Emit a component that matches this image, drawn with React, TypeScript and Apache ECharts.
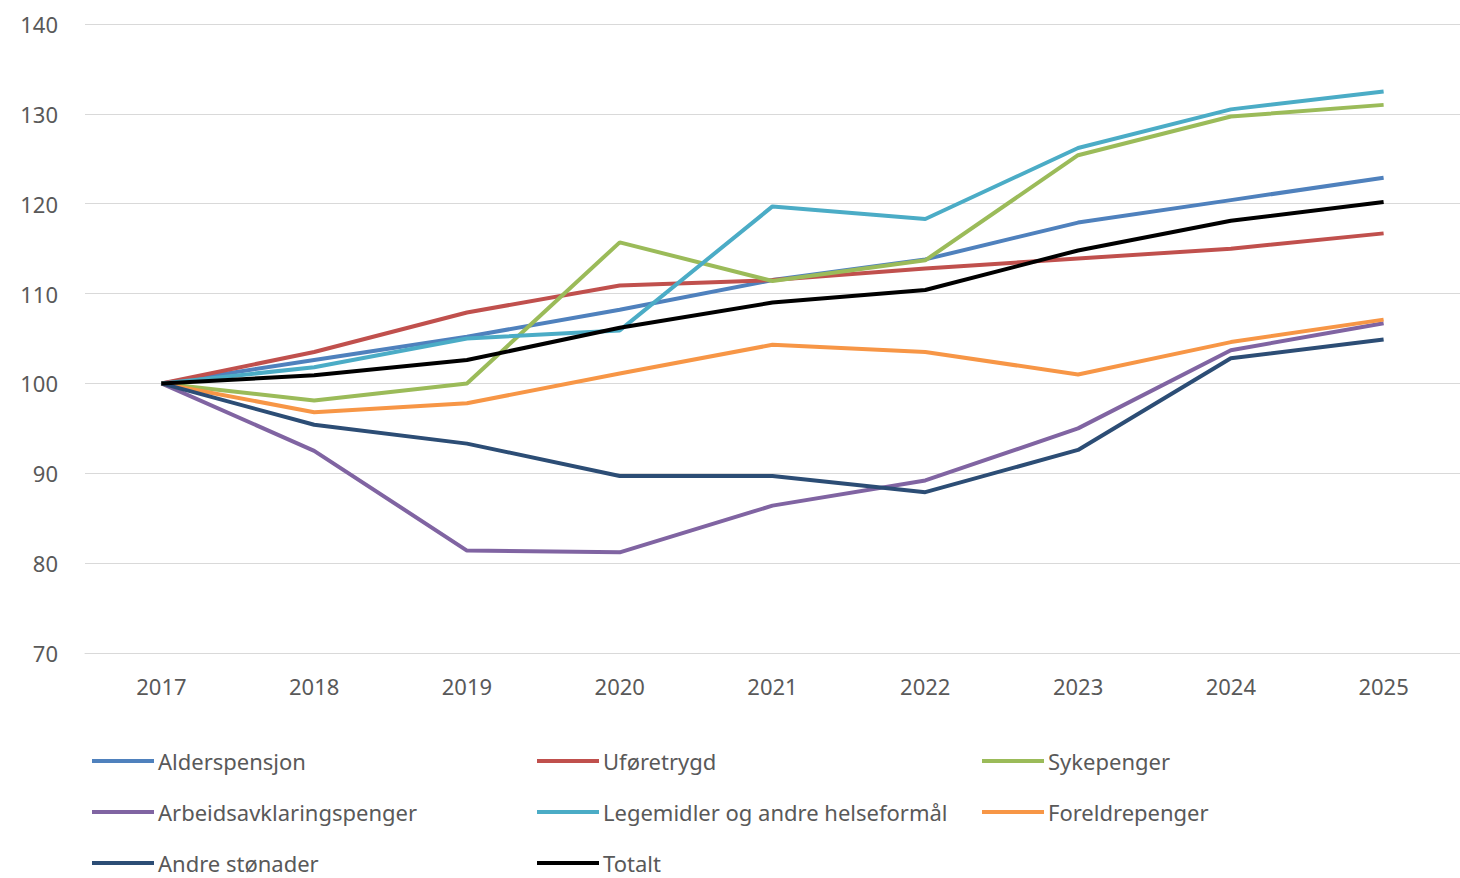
import React, { useEffect, useRef } from "react";
import * as echarts from "echarts";

const years = ["2017", "2018", "2019", "2020", "2021", "2022", "2023", "2024", "2025"];

const alderspensjon = [100, 102.6, 105.2, 108.2, 111.5, 113.8, 117.9, 120.4, 122.9];
const uforetrygd = [100, 103.5, 107.9, 110.9, 111.5, 112.8, 113.9, 115.0, 116.7];
const sykepenger = [100, 98.1, 100, 115.7, 111.4, 113.7, 125.4, 129.7, 131.0];
const arbeidsavklaringspenger = [100, 92.5, 81.4, 81.2, 86.4, 89.2, 95.0, 103.7, 106.7];
const legemidler = [100, 101.8, 105.0, 105.9, 119.7, 118.3, 126.2, 130.5, 132.5];
const foreldrepenger = [100, 96.8, 97.8, 101.1, 104.3, 103.5, 101.0, 104.6, 107.1];
const andreStonader = [100, 95.4, 93.3, 89.7, 89.7, 87.9, 92.6, 102.8, 104.9];
const totalt = [100, 100.9, 102.6, 106.2, 109.0, 110.4, 114.8, 118.1, 120.2];

const seriesDefs = [
  { name: "Alderspensjon", data: alderspensjon, color: "#4F81BD" },
  { name: "Uføretrygd", data: uforetrygd, color: "#C0504D" },
  { name: "Sykepenger", data: sykepenger, color: "#9BBB59" },
  { name: "Arbeidsavklaringspenger", data: arbeidsavklaringspenger, color: "#8064A2" },
  { name: "Legemidler og andre helseformål", data: legemidler, color: "#4BACC6" },
  { name: "Foreldrepenger", data: foreldrepenger, color: "#F79646" },
  { name: "Andre stønader", data: andreStonader, color: "#2C4D75" },
  { name: "Totalt", data: totalt, color: "#000000" },
];

const legendRows = [
  ["Alderspensjon", "Uføretrygd", "Sykepenger"],
  ["Arbeidsavklaringspenger", "Legemidler og andre helseformål", "Foreldrepenger"],
  ["Andre stønader", "Totalt"],
];
const legendTops = [748, 799, 850];

export default function App() {
  const ref = useRef<HTMLDivElement>(null);
  useEffect(() => {
    if (!ref.current) return;
    const chart = echarts.init(ref.current, null, { renderer: "svg" });
    const font = "'Noto Sans', 'Liberation Sans', sans-serif";
    chart.setOption({
      animation: false,
      backgroundColor: "#ffffff",
      grid: { left: 85, top: 24, width: 1379, height: 629, containLabel: false },
      xAxis: {
        type: "category",
        data: years,
        boundaryGap: true,
        axisLine: { show: true, lineStyle: { color: "#d9d9d9", width: 1 } },
        axisTick: { show: false },
        axisLabel: { color: "#595959", fontSize: 22, fontFamily: font, margin: 22 },
      },
      yAxis: {
        type: "value",
        min: 70,
        max: 140,
        interval: 10,
        axisLine: { show: false },
        axisTick: { show: false },
        axisLabel: { color: "#595959", fontSize: 22, fontFamily: font, margin: 27 },
        splitLine: { lineStyle: { color: "#d9d9d9", width: 1 } },
      },
      legend: legendRows.map((names, i) => ({
        orient: "horizontal",
        left: 92,
        top: legendTops[i],
        padding: 0,
        data: names,
        icon: "rect",
        itemWidth: 62,
        itemHeight: 4,
        itemGap: 12,
        textStyle: {
          color: "#595959",
          fontSize: 22,
          fontFamily: font,
          lineHeight: 26,
          width: 367,
          overflow: "none",
          padding: [0, 0, 0, -1],
        },
      })),
      series: seriesDefs.map((s) => ({
        name: s.name,
        type: "line",
        data: s.data,
        symbol: "none",
        color: s.color,
        lineStyle: { width: 4, color: s.color },
      })),
    });
    return () => chart.dispose();
  }, []);
  return (
    <div
      ref={ref}
      style={{ position: "fixed", left: 0, top: 0, width: 1460, height: 878, background: "#fff" }}
    />
  );
}
